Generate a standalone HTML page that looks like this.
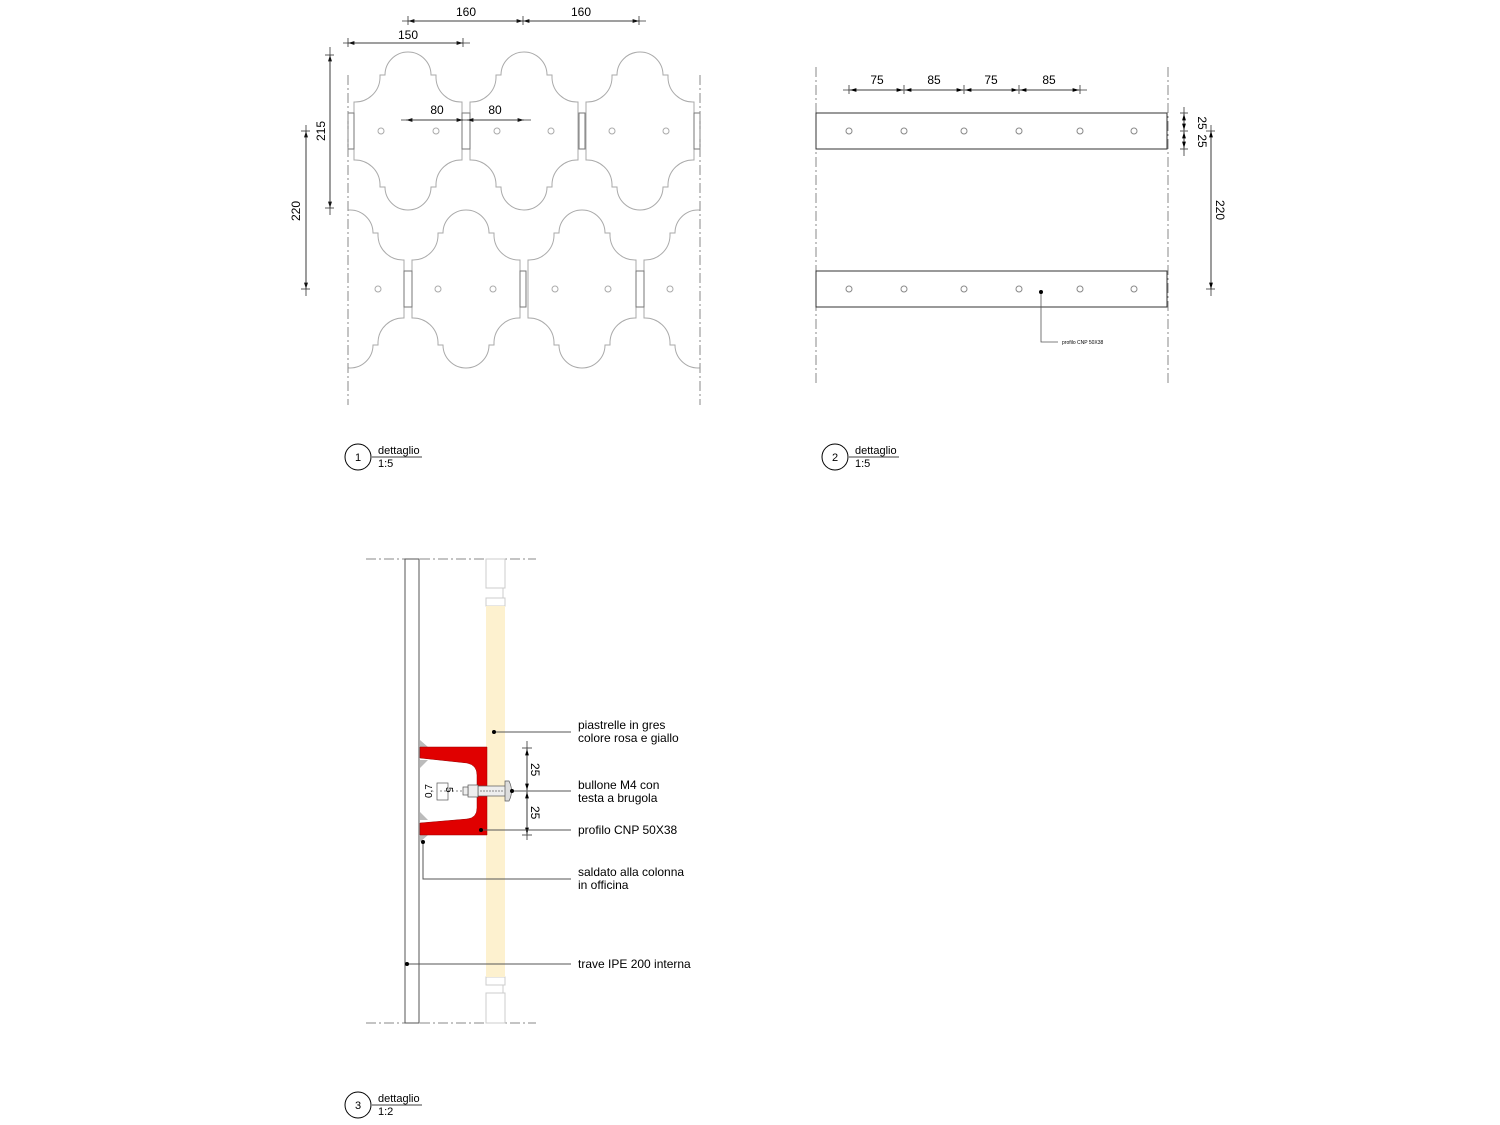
<!DOCTYPE html>
<html><head><meta charset="utf-8"><style>
html,body{margin:0;padding:0;background:#fff}
svg{display:block}
text{font-family:"Liberation Sans",Arial,sans-serif;fill:#000}
</style></head><body>
<svg width="1500" height="1125" viewBox="0 0 1500 1125" xmlns="http://www.w3.org/2000/svg">
<defs>
<path id="tile" d="M-23,-56 A23 23 0 0 1 23,-56 L28,-56 L28,-53 A25 25 0 0 0 54,-29 L54,29 A25 25 0 0 0 28,53 L28,56 L23,56 A23 23 0 0 1 -23,56 L-28,56 L-28,53 A25 25 0 0 0 -54,29 L-54,-29 A25 25 0 0 0 -28,-53 L-28,-56 Z" fill="none" stroke="#aaa" stroke-width="1"/>
<marker id="ar" viewBox="0 0 10 6" refX="10" refY="3" markerWidth="8" markerHeight="5" orient="auto-start-reverse"><path d="M0,0 L10,3 L0,6 Z" fill="#000"/></marker>
<clipPath id="c1"><rect x="348" y="40" width="352" height="330"/></clipPath>
</defs>

<!-- DETAIL 1 -->
<g clip-path="url(#c1)">
<use href="#tile" x="408" y="131"/><use href="#tile" x="524" y="131"/><use href="#tile" x="640" y="131"/><use href="#tile" x="756" y="131"/><use href="#tile" x="292" y="131"/>
<use href="#tile" x="350" y="289"/><use href="#tile" x="466" y="289"/><use href="#tile" x="582" y="289"/><use href="#tile" x="698" y="289"/>
</g>
<g fill="none" stroke="#777" stroke-width="1">
<rect x="462" y="113" width="8" height="36"/><rect x="579" y="113" width="6" height="36"/><rect x="348" y="113" width="6" height="36"/><rect x="694" y="113" width="6" height="36"/>
<rect x="404" y="271" width="8" height="36"/><rect x="520" y="271" width="6" height="36"/><rect x="636" y="271" width="8" height="36"/>
</g>
<g fill="none" stroke="#aaa" stroke-width="1">
<circle cx="381" cy="131" r="3"/><circle cx="436" cy="131" r="3"/><circle cx="497" cy="131" r="3"/><circle cx="551" cy="131" r="3"/><circle cx="612" cy="131" r="3"/><circle cx="666" cy="131" r="3"/>
<circle cx="378" cy="289" r="3"/><circle cx="438" cy="289" r="3"/><circle cx="493" cy="289" r="3"/><circle cx="555" cy="289" r="3"/><circle cx="608" cy="289" r="3"/><circle cx="670" cy="289" r="3"/>
</g>
<g stroke="#888" stroke-width="1" stroke-dasharray="10,3,2,3">
<line x1="348" y1="75" x2="348" y2="405"/><line x1="700" y1="75" x2="700" y2="405"/>
</g>
<g stroke="#333" stroke-width="0.8" fill="none">
<line x1="408" y1="21" x2="523" y2="21" marker-start="url(#ar)" marker-end="url(#ar)"/>
<line x1="523" y1="21" x2="639" y2="21" marker-start="url(#ar)" marker-end="url(#ar)"/>
<line x1="402" y1="21" x2="646" y2="21"/>
<line x1="408" y1="16" x2="408" y2="25"/><line x1="523" y1="16" x2="523" y2="25"/><line x1="639" y1="16" x2="639" y2="25"/>
<line x1="348" y1="43" x2="463" y2="43" marker-start="url(#ar)" marker-end="url(#ar)"/>
<line x1="343" y1="43" x2="470" y2="43"/><line x1="348" y1="38" x2="348" y2="47"/><line x1="463" y1="38" x2="463" y2="47"/>
<line x1="406" y1="120" x2="463" y2="120" marker-start="url(#ar)" marker-end="url(#ar)"/>
<line x1="467" y1="120" x2="524" y2="120" marker-start="url(#ar)" marker-end="url(#ar)"/>
<line x1="401" y1="120" x2="531" y2="120"/>
<line x1="330" y1="55" x2="330" y2="208" marker-start="url(#ar)" marker-end="url(#ar)"/>
<line x1="330" y1="47" x2="330" y2="215"/><line x1="325" y1="55" x2="334" y2="55"/><line x1="325" y1="208" x2="334" y2="208"/>
<line x1="306" y1="131" x2="306" y2="289" marker-start="url(#ar)" marker-end="url(#ar)"/>
<line x1="306" y1="125" x2="306" y2="296"/><line x1="301" y1="131" x2="310" y2="131"/><line x1="301" y1="289" x2="310" y2="289"/>
</g>
<g font-size="12" text-anchor="middle">
<text x="466" y="16">160</text><text x="581" y="16">160</text><text x="408" y="39">150</text>
<text x="437" y="114">80</text><text x="495" y="114">80</text>
<text transform="translate(325,131) rotate(-90)">215</text>
<text transform="translate(300,211) rotate(-90)">220</text>
</g>

<!-- DETAIL 2 -->
<g stroke="#888" stroke-width="1" stroke-dasharray="10,3,2,3">
<line x1="816" y1="67" x2="816" y2="385"/><line x1="1168" y1="67" x2="1168" y2="385"/>
</g>
<g stroke="#333" fill="none" stroke-width="1">
<rect x="816" y="113" width="351" height="36"/><rect x="816" y="271" width="351" height="36"/>
</g>
<g fill="none" stroke="#888" stroke-width="1">
<circle cx="849" cy="131" r="3"/><circle cx="904" cy="131" r="3"/><circle cx="964" cy="131" r="3"/><circle cx="1019" cy="131" r="3"/><circle cx="1080" cy="131" r="3"/><circle cx="1134" cy="131" r="3"/>
<circle cx="849" cy="289" r="3"/><circle cx="904" cy="289" r="3"/><circle cx="964" cy="289" r="3"/><circle cx="1019" cy="289" r="3"/><circle cx="1080" cy="289" r="3"/><circle cx="1134" cy="289" r="3"/>
</g>
<g stroke="#333" stroke-width="0.8" fill="none">
<line x1="843" y1="90" x2="1087" y2="90"/>
<line x1="850" y1="90" x2="903" y2="90" marker-start="url(#ar)" marker-end="url(#ar)"/>
<line x1="905" y1="90" x2="963" y2="90" marker-start="url(#ar)" marker-end="url(#ar)"/>
<line x1="965" y1="90" x2="1018" y2="90" marker-start="url(#ar)" marker-end="url(#ar)"/>
<line x1="1020" y1="90" x2="1079" y2="90" marker-start="url(#ar)" marker-end="url(#ar)"/>
<line x1="849" y1="85" x2="849" y2="94"/><line x1="904" y1="85" x2="904" y2="94"/><line x1="964" y1="85" x2="964" y2="94"/><line x1="1019" y1="85" x2="1019" y2="94"/><line x1="1080" y1="85" x2="1080" y2="94"/>
<line x1="1184" y1="107" x2="1184" y2="156"/>
<line x1="1184" y1="114" x2="1184" y2="130" marker-start="url(#ar)" marker-end="url(#ar)"/>
<line x1="1184" y1="132" x2="1184" y2="148" marker-start="url(#ar)" marker-end="url(#ar)"/>
<line x1="1180" y1="113" x2="1188" y2="113"/><line x1="1180" y1="131" x2="1188" y2="131"/><line x1="1180" y1="149" x2="1188" y2="149"/>
<line x1="1211" y1="125" x2="1211" y2="296"/>
<line x1="1211" y1="131" x2="1211" y2="289" marker-start="url(#ar)" marker-end="url(#ar)"/>
<line x1="1206" y1="131" x2="1215" y2="131"/><line x1="1206" y1="289" x2="1215" y2="289"/>
<polyline points="1041,292 1041,342 1058,342" stroke="#555"/>
</g>
<circle cx="1041" cy="292" r="2" fill="#000"/>
<g font-size="12" text-anchor="middle">
<text x="877" y="84">75</text><text x="934" y="84">85</text><text x="991" y="84">75</text><text x="1049" y="84">85</text>
<text transform="translate(1198,123) rotate(90)">25</text>
<text transform="translate(1198,141) rotate(90)">25</text>
<text transform="translate(1216,210) rotate(90)">220</text>
</g>
<text x="1062" y="344" font-size="5">profilo CNP 50X38</text>

<!-- labels -->
<g font-size="11">
<circle cx="358" cy="457" r="13" fill="none" stroke="#000"/><text x="358" y="461" text-anchor="middle">1</text>
<text x="378" y="454">dettaglio</text><line x1="372" y1="457" x2="422" y2="457" stroke="#000" stroke-width="0.8"/><text x="378" y="467">1:5</text>
<circle cx="835" cy="457" r="13" fill="none" stroke="#000"/><text x="835" y="461" text-anchor="middle">2</text>
<text x="855" y="454">dettaglio</text><line x1="849" y1="457" x2="899" y2="457" stroke="#000" stroke-width="0.8"/><text x="855" y="467">1:5</text>
<circle cx="358" cy="1105" r="13" fill="none" stroke="#000"/><text x="358" y="1109" text-anchor="middle">3</text>
<text x="378" y="1102">dettaglio</text><line x1="372" y1="1105" x2="422" y2="1105" stroke="#000" stroke-width="0.8"/><text x="378" y="1115">1:2</text>
</g>

<!-- DETAIL 3 -->
<g stroke="#888" stroke-width="1" stroke-dasharray="10,3,2,3">
<line x1="366" y1="559" x2="536" y2="559"/><line x1="366" y1="1023" x2="536" y2="1023"/>
</g>
<rect x="405" y="559" width="14" height="464" fill="none" stroke="#555"/>
<g fill="none" stroke="#ccc">
<rect x="486" y="559" width="19" height="29"/><line x1="503" y1="588" x2="503" y2="598"/><rect x="486" y="598" width="19" height="8"/>
<rect x="486" y="977" width="19" height="8"/><line x1="503" y1="985" x2="503" y2="993"/><rect x="486" y="993" width="19" height="30"/>
</g>
<rect x="486" y="606" width="19" height="371" fill="#fdf1cf"/>
<polygon points="420,747 420,740 428,747" fill="#bbb"/><polygon points="420,835 420,842 428,835" fill="#bbb"/>
<polygon points="420,820 420,812 428,820" fill="#bbb"/><polygon points="420,760 420,768 428,760" fill="#bbb"/>
<path d="M420,747 L487,747 L487,835 L420,835 L420,823 L467,819 Q477,818 477,808 L477,775 Q477,765 467,763 L420,758 Z" fill="#e00000" stroke="#900" stroke-width="0.5"/>
<rect x="478" y="786" width="28" height="10" fill="#eee" stroke="#555" stroke-width="0.7"/>
<line x1="480" y1="791" x2="504" y2="791" stroke="#888" stroke-dasharray="2,1"/>
<rect x="468" y="785" width="10" height="12" fill="#eee" stroke="#555" stroke-width="0.7"/>
<rect x="463" y="787" width="5" height="8" fill="#eee" stroke="#555" stroke-width="0.7"/>
<path d="M505,781 L509,781 Q514,791 509,801 L505,801 Z" fill="#ddd" stroke="#555" stroke-width="0.7"/>
<line x1="440" y1="791" x2="463" y2="791" stroke="#888" stroke-dasharray="2,2"/>
<rect x="437" y="783" width="11" height="17" fill="none" stroke="#555" stroke-width="0.7"/>
<g font-size="10"><text transform="translate(446,787) rotate(90)">5</text><text transform="translate(432,798) rotate(-90)">0,7</text></g>
<g stroke="#333" stroke-width="0.8" fill="none">
<line x1="527" y1="741" x2="527" y2="840"/>
<line x1="527" y1="749" x2="527" y2="790" marker-start="url(#ar)" marker-end="url(#ar)"/>
<line x1="527" y1="792" x2="527" y2="834" marker-start="url(#ar)" marker-end="url(#ar)"/>
<line x1="522" y1="748" x2="532" y2="748"/><line x1="512" y1="791" x2="532" y2="791"/><line x1="522" y1="835" x2="532" y2="835"/>
</g>
<g font-size="12"><text transform="translate(531,763) rotate(90)">25</text><text transform="translate(531,806) rotate(90)">25</text></g>
<g stroke="#555" stroke-width="1" fill="none">
<line x1="494" y1="732" x2="571" y2="732"/><line x1="512" y1="791" x2="571" y2="791"/>
<line x1="481" y1="830" x2="571" y2="830"/><polyline points="423,842 423,879 571,879"/>
<line x1="407" y1="964" x2="571" y2="964"/>
</g>
<g fill="#000"><circle cx="494" cy="732" r="2"/><circle cx="512" cy="791" r="2"/><circle cx="481" cy="830" r="2"/><circle cx="423" cy="842" r="2"/><circle cx="407" cy="964" r="2"/></g>
<g font-size="12">
<text x="578" y="729">piastrelle in gres</text><text x="578" y="742">colore rosa e giallo</text>
<text x="578" y="789">bullone M4 con</text><text x="578" y="802">testa a brugola</text>
<text x="578" y="834">profilo CNP 50X38</text>
<text x="578" y="876">saldato alla colonna</text><text x="578" y="889">in officina</text>
<text x="578" y="968">trave IPE 200 interna</text>
</g>
</svg>
</body></html>
